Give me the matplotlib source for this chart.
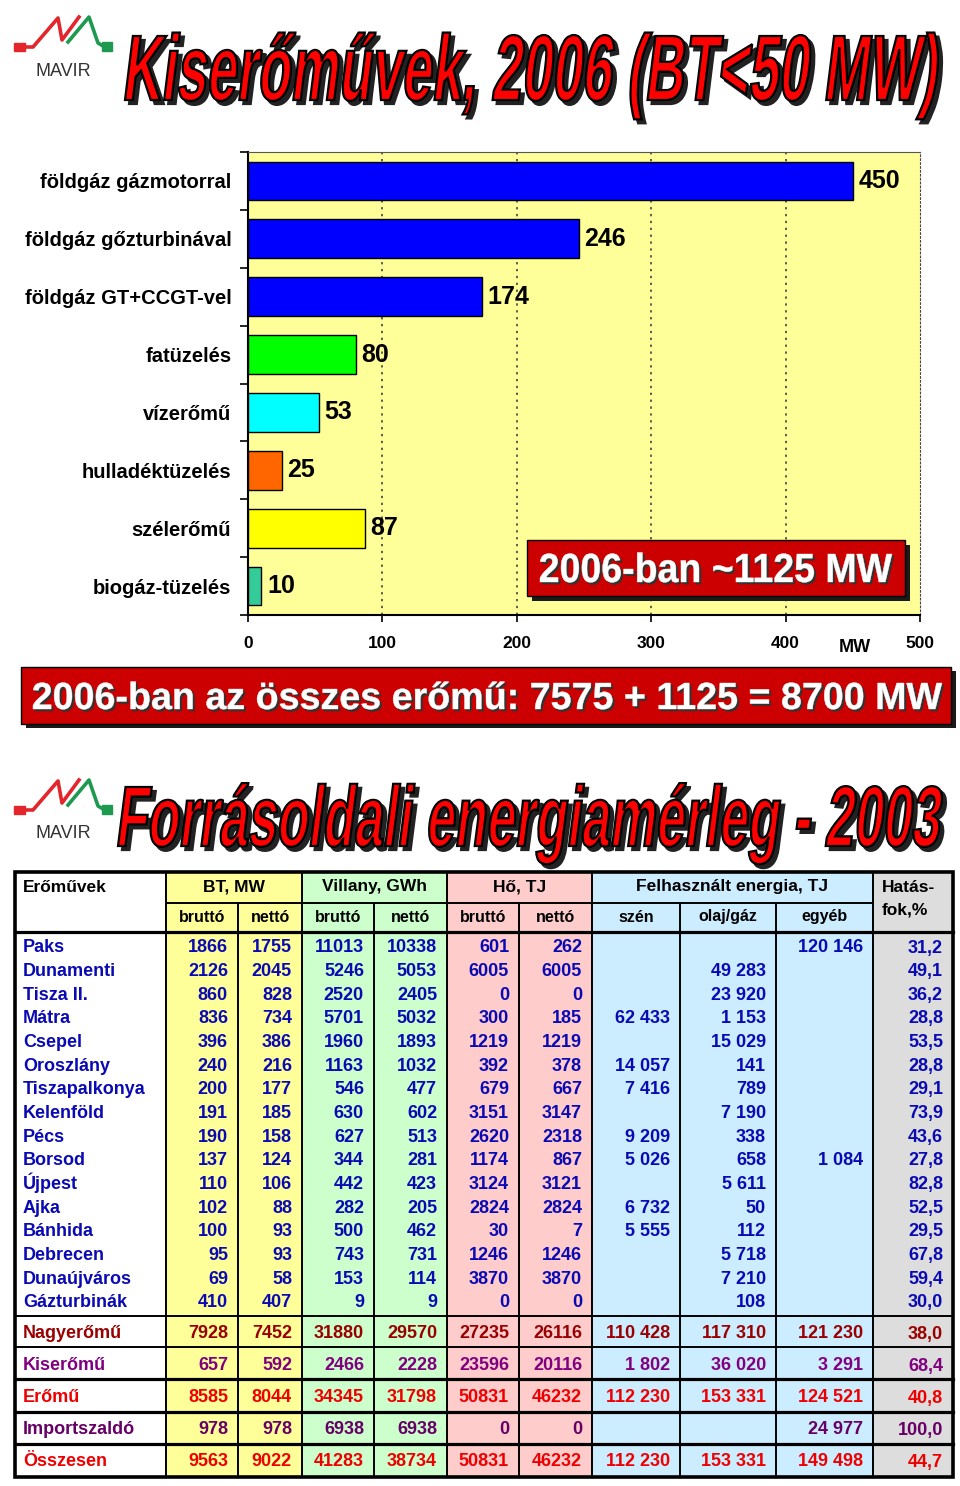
import matplotlib
matplotlib.use('Agg')
import matplotlib.pyplot as plt
from matplotlib import font_manager as fm
from matplotlib.textpath import TextPath
from matplotlib.patches import PathPatch, Rectangle
from matplotlib.font_manager import FontProperties
from matplotlib.transforms import Affine2D

plt.rcParams['font.family'] = ['Liberation Sans', 'DejaVu Sans']

# --- bar chart data (small power plants, 2006) ---
categories = ['földgáz gázmotorral', 'földgáz gőzturbinával', 'földgáz GT+CCGT-vel',
              'fatüzelés', 'vízerőmű', 'hulladéktüzelés', 'szélerőmű', 'biogáz-tüzelés']
capacity_mw = [450, 246, 174, 80, 53, 25, 87, 10]
bar_colors = ['#0000FF', '#0000FF', '#0000FF', '#00FF00', '#00FFFF', '#FF6600', '#FFFF00', '#33CC99']
x_ticks = [0, 100, 200, 300, 400, 500]

# --- table data (energy balance 2003) ---
plants = ['Paks', 'Dunamenti', 'Tisza II.', 'Mátra', 'Csepel', 'Oroszlány', 'Tiszapalkonya',
          'Kelenföld', 'Pécs', 'Borsod', 'Újpest', 'Ajka', 'Bánhida', 'Debrecen',
          'Dunaújváros', 'Gázturbinák']
bt_brutto = [1866, 2126, 860, 836, 396, 240, 200, 191, 190, 137, 110, 102, 100, 95, 69, 410]
bt_netto = [1755, 2045, 828, 734, 386, 216, 177, 185, 158, 124, 106, 88, 93, 93, 58, 407]
vill_brutto = [11013, 5246, 2520, 5701, 1960, 1163, 546, 630, 627, 344, 442, 282, 500, 743, 153, 9]
vill_netto = [10338, 5053, 2405, 5032, 1893, 1032, 477, 602, 513, 281, 423, 205, 462, 731, 114, 9]
ho_brutto = [601, 6005, 0, 300, 1219, 392, 679, 3151, 2620, 1174, 3124, 2824, 30, 1246, 3870, 0]
ho_netto = [262, 6005, 0, 185, 1219, 378, 667, 3147, 2318, 867, 3121, 2824, 7, 1246, 3870, 0]
szen = [None, None, None, 62433, None, 14057, 7416, None, 9209, 5026, None, 6732, 5555, None, None, None]
olaj_gaz = [None, 49283, 23920, 1153, 15029, 141, 789, 7190, 338, 658, 5611, 50, 112, 5718, 7210, 108]
egyeb = [120146, None, None, None, None, None, None, None, None, 1084, None, None, None, None, None, None]
hatasfok = [31.2, 49.1, 36.2, 28.8, 53.5, 28.8, 29.1, 73.9, 43.6, 27.8, 82.8, 52.5, 29.5, 67.8, 59.4, 30.0]

sum_names = ['Nagyerőmű', 'Kiserőmű', 'Erőmű', 'Importszaldó', 'Összesen']
sum_bt_brutto = [7928, 657, 8585, 978, 9563]
sum_bt_netto = [7452, 592, 8044, 978, 9022]
sum_vill_brutto = [31880, 2466, 34345, 6938, 41283]
sum_vill_netto = [29570, 2228, 31798, 6938, 38734]
sum_ho_brutto = [27235, 23596, 50831, 0, 50831]
sum_ho_netto = [26116, 20116, 46232, 0, 46232]
sum_szen = [110428, 1802, 112230, None, 112230]
sum_olaj_gaz = [117310, 36020, 153331, None, 153331]
sum_egyeb = [121230, 3291, 124521, 24977, 149498]
sum_hatasfok = [38.0, 68.4, 40.8, 100.0, 44.7]
sum_colors = ['#990000', '#800080', '#EE0000', '#660066', '#EE0000']


def has_font(name):
    try:
        fm.findfont(FontProperties(family=name), fallback_to_default=False)
        return True
    except ValueError:
        return False


narrow = 'Liberation Sans Narrow' if has_font('Liberation Sans Narrow') else 'Liberation Sans'


def fancy_text(ax, s, x0, x1, ytop, ybase, prop, skew=0, face='red', edge='black', lw=1.0,
               shadow=None, off=(3, 3), z=5):
    tp = TextPath((0, 0), s, size=100, prop=prop)
    cap = TextPath((0, 0), 'H', size=100, prop=prop).get_extents().height
    p = Affine2D().skew_deg(skew, 0).transform_path(tp)
    bb = p.get_extents()
    sx = (x1 - x0) / bb.width
    sy = (ybase - ytop) / cap
    p = Affine2D().translate(-bb.x0, 0).scale(sx, -sy).translate(x0, ybase).transform_path(p)
    if shadow:
        sp = Affine2D().translate(*off).transform_path(p)
        ax.add_patch(PathPatch(sp, fc=shadow, ec=shadow, lw=lw, zorder=z))
    ax.add_patch(PathPatch(p, fc=face, ec=edge, lw=lw, zorder=z + 1))


def logo(ax, dy):
    red, green = '#E3262B', '#1E9A50'
    ax.add_patch(Rectangle((14, 43 + dy), 11, 8, color=red, zorder=4))
    ax.plot([25, 33, 58, 62, 79], [47 + dy, 47 + dy, 18 + dy, 40 + dy, 17 + dy],
            color=red, lw=2.6, zorder=4)
    ax.plot([68, 89, 98, 103], [42 + dy, 17 + dy, 43 + dy, 46 + dy], color=green, lw=2.6, zorder=4)
    ax.add_patch(Rectangle((102, 42 + dy), 10, 9, color=green, zorder=4))
    ax.text(63, 71 + dy, 'MAVIR', ha='center', va='center', fontsize=13, color='#333333')


fig = plt.figure(figsize=(9.6, 14.86), dpi=100)
W, H = 960, 1486

# --- bar chart ---
ax = fig.add_axes([248 / W, 1 - 615 / H, 672 / W, 463 / H], zorder=1)
ax.set_facecolor('#FFFF99')
ypos = list(range(len(categories)))
ax.barh(ypos, capacity_mw, height=0.67, color=bar_colors, edgecolor='black', linewidth=1, zorder=3)
for y, v in zip(ypos, capacity_mw):
    ax.annotate(str(v), (v, y), xytext=(4, 0), textcoords='offset points', va='center',
                ha='left', fontsize=18, fontweight='bold', color='black')
ax.set_xlim(0, 500)
ax.set_ylim(len(categories) - 0.5, -0.5)
ax.set_xticks(x_ticks)
ax.set_xticklabels([str(t) for t in x_ticks], fontsize=12.5, fontweight='bold')
ax.tick_params(axis='x', length=5, width=1.2, pad=10)
ax.set_yticks([i + 0.5 for i in range(-1, len(categories))])
ax.set_yticklabels([])
ax.tick_params(axis='y', which='major', length=6, width=1.2)
ax.set_yticks(ypos, minor=True)
ax.set_yticklabels(categories, minor=True, fontsize=14.5, fontweight='bold')
ax.tick_params(axis='y', which='minor', length=0, pad=12)
for t in [100, 200, 300, 400]:
    ax.axvline(t, color='#333333', ls=(0, (1.5, 3)), lw=1.1, zorder=1)
ax.spines['left'].set_linewidth(1.5)
ax.spines['bottom'].set_linewidth(1.5)
ax.spines['top'].set_color('#555555')
ax.spines['right'].set_color('#444444')
ax.spines['right'].set_linestyle((0, (1.5, 2)))

# --- pixel overlay for titles, boxes and the table ---
ov = fig.add_axes([0, 0, 1, 1], zorder=3)
ov.set_xlim(0, W)
ov.set_ylim(H, 0)
ov.axis('off')

ov.text(855, 647, 'MW', ha='center', va='center', fontsize=13, fontweight='bold')

title_prop = FontProperties(family=narrow, weight='bold')
logo(ov, 0)
fancy_text(ov, 'Kiserőművek, 2006 (BT<50 MW)', 125, 938, 36, 100, title_prop, skew=12,
           face='#FF0000', edge='black', lw=1.6, shadow='#222222', off=(4, 4))
logo(ov, 763)
fancy_text(ov, 'Forrásoldali energiamérleg - 2003', 118, 942, 787, 846, title_prop, skew=12,
           face='#FF0000', edge='black', lw=1.6, shadow='#222222', off=(4, 4))

box_prop = FontProperties(family=narrow, weight='bold')
# box inside the chart
ov.add_patch(Rectangle((532, 545), 378, 56, fc='#1a1a1a', ec='none', zorder=4))
ov.add_patch(Rectangle((527, 540), 378, 56, fc='#CC0000', ec='black', lw=1, zorder=5))
fancy_text(ov, '2006-ban ~1125 MW', 540, 892, 554, 582, box_prop, face='white', edge='white',
           lw=0.3, shadow='#333333', off=(2, 2), z=6)
# banner
ov.add_patch(Rectangle((26, 671), 930, 57, fc='#1a1a1a', ec='none', zorder=4))
ov.add_patch(Rectangle((21, 667), 930, 57, fc='#CC0000', ec='black', lw=1, zorder=5))
fancy_text(ov, '2006-ban az összes erőmű: 7575 + 1125 = 8700 MW', 33, 942, 683, 709, box_prop,
           face='white', edge='white', lw=0.3, shadow='#333333', off=(2, 2), z=6)

# --- table ---
T0, T1 = 872, 1477
L, R = 15, 953
groups = [(166, 302, '#FFFF99'), (302, 447, '#CCFFCC'), (447, 592, '#FFCCCC'),
          (592, 873, '#CCECFF'), (873, 953, '#DDDDDD')]
for x0, x1, c in groups:
    ov.add_patch(Rectangle((x0, T0), x1 - x0, T1 - T0, fc=c, ec='none', zorder=1))

lw_thin, lw_thick = 1.4, 2.3
for x in [166, 302, 447, 592, 873]:
    ov.plot([x, x], [T0, T1], color='black', lw=lw_thin, zorder=2)
for x in [238, 519, 680, 776]:
    ov.plot([x, x], [903, T1], color='black', lw=lw_thin, zorder=2)
ov.plot([374, 374], [903, T1], color='black', lw=lw_thin, zorder=2)
ov.plot([166, 873], [903, 903], color='black', lw=lw_thin, zorder=2)
ov.plot([L, R], [932, 932], color='black', lw=lw_thick, zorder=2)
for y, lw in [(1316, lw_thin), (1347, lw_thin), (1379, lw_thick), (1412, lw_thick), (1444, lw_thick)]:
    ov.plot([L, R], [y, y], color='black', lw=lw, zorder=2)
ov.add_patch(Rectangle((L, T0), R - L, T1 - T0, fc='none', ec='black', lw=2.6, zorder=3))

hfs = 12.5
ov.text(23, 887, 'Erőművek', ha='left', va='center', fontsize=hfs, fontweight='bold')
for x0, x1, s in [(166, 302, 'BT, MW'), (302, 447, 'Villany, GWh'), (447, 592, 'Hő, TJ'),
                  (592, 873, 'Felhasznált energia, TJ')]:
    ov.text((x0 + x1) / 2, 887, s, ha='center', va='center', fontsize=hfs, fontweight='bold')
ov.text(882, 887, 'Hatás-', ha='left', va='center', fontsize=hfs, fontweight='bold')
ov.text(882, 910, 'fok,%', ha='left', va='center', fontsize=hfs, fontweight='bold')
sub_cols = [(166, 238, 'bruttó'), (238, 302, 'nettó'), (302, 374, 'bruttó'), (374, 447, 'nettó'),
            (447, 519, 'bruttó'), (519, 592, 'nettó'), (592, 680, 'szén'), (680, 776, 'olaj/gáz'),
            (776, 873, 'egyéb')]
for x0, x1, s in sub_cols:
    ov.text((x0 + x1) / 2, 917, s, ha='center', va='center', fontsize=11.5, fontweight='bold')

col_right = [238, 302, 374, 447, 519, 592, 680, 776, 873, 953]


def sp(v):
    return '' if v is None else f'{v:,}'.replace(',', ' ')


def pct(v):
    return f'{v:.1f}'.replace('.', ',')


def row(y, name, vals, color):
    base = y + 6.5
    ov.text(23, base, name, ha='left', va='baseline', fontsize=13, fontweight='bold', color=color)
    for xr, s in zip(col_right, vals):
        ov.text(xr - 10, base, s, ha='right', va='baseline', fontsize=13, fontweight='bold', color=color)


blue = '#0A0AB4'
for i, n in enumerate(plants):
    vals = [str(bt_brutto[i]), str(bt_netto[i]), str(vill_brutto[i]), str(vill_netto[i]),
            str(ho_brutto[i]), str(ho_netto[i]), sp(szen[i]), sp(olaj_gaz[i]), sp(egyeb[i]),
            pct(hatasfok[i])]
    row(946 + i * 23.65, n, vals, blue)

for i, n in enumerate(sum_names):
    vals = [str(sum_bt_brutto[i]), str(sum_bt_netto[i]), str(sum_vill_brutto[i]),
            str(sum_vill_netto[i]), str(sum_ho_brutto[i]), str(sum_ho_netto[i]),
            sp(sum_szen[i]), sp(sum_olaj_gaz[i]), sp(sum_egyeb[i]), pct(sum_hatasfok[i])]
    row(1332 + i * 32, n, vals, sum_colors[i])

fig.savefig('out.png', dpi=100)
